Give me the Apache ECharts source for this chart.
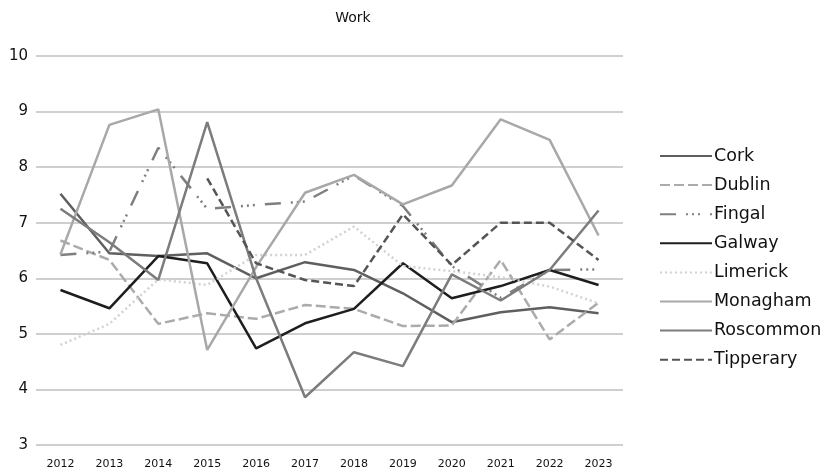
<!DOCTYPE html>
<html><head><meta charset="utf-8">
<script src="https://cdn.jsdelivr.net/npm/echarts@6/dist/echarts.min.js"></script>
<style>html,body{margin:0;padding:0;background:#fff}#c{width:828px;height:476px}</style>
</head><body><div id="c"></div>
<script>
var years = ['2012','2013','2014','2015','2016','2017','2018','2019','2020','2021','2022','2023'];
var cork      = [7.52, 6.45, 6.40, 6.45, 6.00, 6.29, 6.15, 5.73, 5.21, 5.39, 5.48, 5.37];
var dublin    = [6.68, 6.33, 5.18, 5.37, 5.27, 5.52, 5.45, 5.14, 5.15, 6.33, 4.90, 5.56];
var fingal    = [6.42, 6.48, 8.35, 7.25, 7.32, 7.38, 7.85, 7.30, 6.22, 5.65, 6.15, 6.16];
var galway    = [5.79, 5.46, 6.40, 6.27, 4.74, 5.19, 5.45, 6.27, 5.64, 5.86, 6.15, 5.88];
var limerick  = [4.80, 5.18, 5.98, 5.88, 6.42, 6.42, 6.93, 6.22, 6.13, 6.02, 5.85, 5.55];
var monagham  = [6.43, 8.76, 9.04, 4.71, 6.20, 7.54, 7.86, 7.33, 7.67, 8.86, 8.49, 6.77];
var roscommon = [7.25, 6.65, 5.97, 8.81, 6.00, 3.86, 4.67, 4.42, 6.07, 5.60, 6.15, 7.22];
var tipperary = [null, null, null, 7.80, 6.27, 5.97, 5.86, 7.15, 6.24, 7.00, 7.00, 6.33];
var yTicks = [3,4,5,6,7,8,9,10];

var defs = [
  ['Cork', cork, '#5f5f5f', 'solid'],
  ['Dublin', dublin, '#ababab', [10,4]],
  ['Fingal', fingal, '#7f7f7f', [16,10,2,4,2,4,2,10]],
  ['Galway', galway, '#1e1e1e', 'solid'],
  ['Limerick', limerick, '#d2d2d2', [2,3]],
  ['Monagham', monagham, '#a8a8a8', 'solid'],
  ['Roscommon', roscommon, '#7c7c7c', 'solid'],
  ['Tipperary', tipperary, '#555555', [8,4]]
];
var FONT = 'DejaVu Sans';
var series = defs.map(function(d){
  return {name:d[0], type:'line', data:d[1], symbol:'none', showSymbol:false, connectNulls:false,
    lineStyle:{color:d[2], width:2.5, type:d[3]}, itemStyle:{color:d[2]}, z: 2};
});
var chart = echarts.init(document.getElementById('c'), null, {renderer:'canvas'});
chart.setOption({
  animation:false,
  backgroundColor:'#fff',
  title:{text:'Work', left:348, top:6, textAlign:'center',
    textStyle:{fontFamily:FONT, fontSize:14, fontWeight:'normal', color:'#111'}},
  grid:{left:36, right:205, top:56, bottom:31, containLabel:false},
  legend:{orient:'vertical', left:654, top:142, itemWidth:52, itemHeight:14, itemGap:11.1,
    itemStyle:{opacity:0},
    textStyle:{fontFamily:FONT, fontSize:17.5, color:'#111', padding:[0,0,0,-3]},
    data: defs.map(function(d){return {name:d[0]};})},
  xAxis:{type:'category', data:years, boundaryGap:true,
    axisLine:{show:false}, axisTick:{show:false},
    axisLabel:{fontFamily:FONT, fontSize:11, color:'#111', margin:14}},
  yAxis:{type:'value', min:3, max:10, interval:1,
    axisLine:{show:false}, axisTick:{show:false},
    splitLine:{lineStyle:{color:'#cfcfcf', width:2}},
    axisLabel:{fontFamily:FONT, fontSize:15, color:'#111', margin:8,
      formatter:function(v){return yTicks.indexOf(v)>=0?String(v):'';}}},
  series: series
});
</script></body></html>
